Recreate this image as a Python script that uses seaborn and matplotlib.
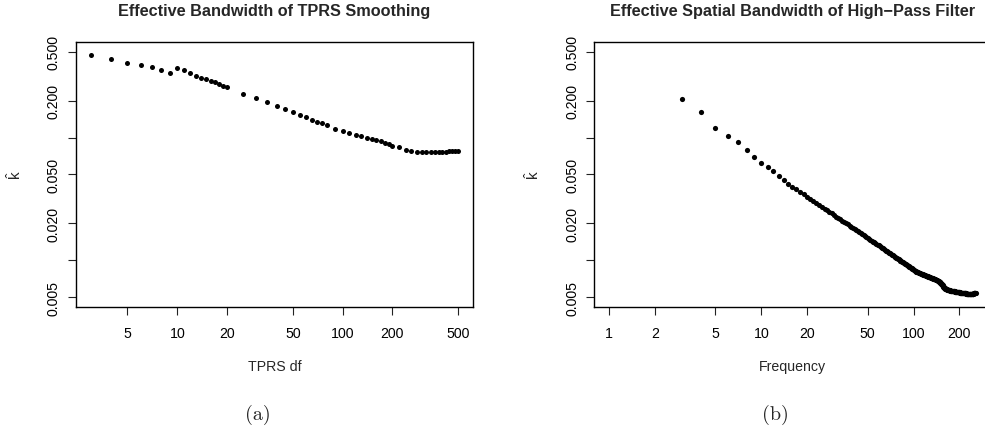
import numpy as np
import seaborn as sns
import matplotlib
matplotlib.use("Agg")
import matplotlib.pyplot as plt

# (a) TPRS smoothing: degrees of freedom vs effective bandwidth
tprs_df = [3, 4, 5, 6, 7, 8, 9, 10, 11, 12, 13, 14, 15, 16, 17, 18, 19, 20,
           25, 30, 35, 40, 45, 50, 55, 60, 65, 70, 75, 80,
           90, 100, 110, 120, 130, 140, 150, 160, 170, 180, 190, 200,
           220, 240, 260, 280, 300, 320, 340, 360, 380, 400, 420, 440, 460, 480, 500]
tprs_k = [0.467, 0.433, 0.402, 0.387, 0.373, 0.352, 0.333, 0.366, 0.352, 0.333,
          0.319, 0.308, 0.298, 0.289, 0.281, 0.273, 0.263, 0.257,
          0.228, 0.209, 0.194, 0.181, 0.170, 0.161, 0.153, 0.146, 0.140, 0.135, 0.131, 0.126,
          0.118, 0.1125, 0.108, 0.105, 0.102, 0.0995, 0.097, 0.095, 0.093, 0.091, 0.088, 0.086,
          0.083, 0.0795, 0.078, 0.0768, 0.0765, 0.0764, 0.0764, 0.0764, 0.0764, 0.0766,
          0.0769, 0.0771, 0.0773, 0.0773, 0.0773]

# (b) high-pass filter: frequency vs effective spatial bandwidth
freq = list(range(3, 257))
hp_k = [0.205, 0.161, 0.119, 0.103, 0.0916, 0.0788, 0.0692, 0.0623, 0.0573, 0.0532,
        0.0484, 0.0455, 0.0422, 0.0397, 0.0378, 0.0361, 0.0345, 0.0330, 0.0317, 0.0304,
        0.0293, 0.0283, 0.0273, 0.0264, 0.0256, 0.0248, 0.0241, 0.0234, 0.0227, 0.0221,
        0.0216, 0.0210, 0.0205, 0.0200, 0.0196, 0.0191, 0.0187, 0.0183, 0.0179, 0.0176,
        0.0172, 0.0169, 0.0166, 0.0163, 0.0160, 0.0157, 0.0154, 0.0151, 0.0149, 0.0147,
        0.0144, 0.0142, 0.0140, 0.0138, 0.0135, 0.0133, 0.0132, 0.0130, 0.0128, 0.0126,
        0.0125, 0.0123, 0.0121, 0.0120, 0.0118, 0.0117, 0.0115, 0.0114, 0.0112, 0.0111,
        0.0110, 0.0109, 0.0107, 0.0106, 0.0105, 0.0104, 0.0103, 0.0102, 0.0101, 0.00995,
        0.00984, 0.00974, 0.00965, 0.00955, 0.00946, 0.00937, 0.00928, 0.00919, 0.00910, 0.00902,
        0.00894, 0.00886, 0.00878, 0.00870, 0.00862, 0.00855, 0.00848, 0.00840, 0.00832, 0.00823,
        0.00815, 0.00808, 0.00802, 0.00799, 0.00795, 0.00792, 0.00789, 0.00785, 0.00782, 0.00778,
        0.00775, 0.00771, 0.00768, 0.00765, 0.00761, 0.00758, 0.00754, 0.00751, 0.00747, 0.00744,
        0.00741, 0.00739, 0.00736, 0.00733, 0.00731, 0.00728, 0.00725, 0.00723, 0.00720, 0.00717,
        0.00715, 0.00712, 0.00709, 0.00707, 0.00704, 0.00701, 0.00699, 0.00696, 0.00693, 0.00691,
        0.00687, 0.00683, 0.00679, 0.00675, 0.00671, 0.00666, 0.00661, 0.00656, 0.00650, 0.00644,
        0.00638, 0.00631, 0.00624, 0.00617, 0.00610, 0.00604, 0.00598, 0.00593, 0.00589, 0.00586,
        0.00583, 0.00581, 0.00579, 0.00577, 0.00575, 0.00573, 0.00572, 0.00570, 0.00569, 0.00568,
        0.00567, 0.00566, 0.00565, 0.00564, 0.00563, 0.00563, 0.00562, 0.00561, 0.00561, 0.00560,
        0.00559, 0.00558, 0.00558, 0.00557, 0.00556, 0.00555, 0.00555, 0.00554, 0.00553, 0.00552,
        0.00552, 0.00551, 0.00550, 0.00550, 0.00549, 0.00548, 0.00548, 0.00547, 0.00547, 0.00546,
        0.00545, 0.00545, 0.00544, 0.00544, 0.00543, 0.00543, 0.00542, 0.00541, 0.00541, 0.00540,
        0.00540, 0.00539, 0.00539, 0.00538, 0.00538, 0.00537, 0.00537, 0.00536, 0.00536, 0.00535,
        0.00535, 0.00535, 0.00535, 0.00534, 0.00534, 0.00534, 0.00534, 0.00534, 0.00534, 0.00534,
        0.00534, 0.00534, 0.00535, 0.00535, 0.00535, 0.00535, 0.00535, 0.00535, 0.00535, 0.00535,
        0.00535, 0.00535, 0.00535, 0.00535, 0.00535, 0.00536, 0.00536, 0.00536, 0.00536, 0.00536,
        0.00536, 0.00536, 0.00536, 0.00536]
assert len(freq) == len(hp_k)

y_ticks = [0.005, 0.01, 0.02, 0.05, 0.1, 0.2, 0.5]
y_labels = ["0.005", "", "0.020", "0.050", "", "0.200", "0.500"]
xticks_a = [5, 10, 20, 50, 100, 200, 500]
xticks_b = [1, 2, 5, 10, 20, 50, 100, 200]

sns.set_style("ticks")
plt.rcParams['font.family'] = ['Liberation Sans', 'DejaVu Sans']
plt.rcParams['mathtext.fontset'] = 'custom'
plt.rcParams['mathtext.rm'] = 'Liberation Sans'
plt.rcParams['mathtext.it'] = 'Liberation Sans'

fig = plt.figure(figsize=(9.85, 4.31), dpi=100)
ax_a = fig.add_axes([0.0772, 0.2854, 0.4030, 0.6149])
ax_b = fig.add_axes([0.6034, 0.2854, 0.4022, 0.6149])


def style_axis(ax, xticks, xlim, title, xlabel):
    ax.set_xscale("log")
    ax.set_yscale("log")
    ax.set_xlim(*xlim)
    ax.set_ylim(0.00416, 0.601)
    ax.set_xticks(xticks)
    ax.set_xticklabels([str(t) for t in xticks])
    ax.set_yticks(y_ticks)
    ax.set_yticklabels(y_labels, rotation=90, va="center")
    ax.minorticks_off()
    ax.tick_params(axis="both", direction="out", length=6, width=0.8,
                   labelsize=10.2, colors="#222222", labelcolor="black")
    ax.tick_params(axis="x", pad=8)
    ax.tick_params(axis="y", pad=5)
    for sp in ax.spines.values():
        sp.set_visible(True)
        sp.set_linewidth(1.0)
        sp.set_color("black")
    ax.set_title(title, fontsize=11.7, fontweight="bold", pad=19.5)
    ax.set_xlabel(xlabel, fontsize=10.2)
    ax.xaxis.set_label_coords(0.5, -0.222)
    ax.xaxis.label.set_va("center")
    ax.set_ylabel(r"$\hat{\mathrm{k}}$", fontsize=11)
    ax.yaxis.set_label_coords(-0.155, 0.5)
    ax.yaxis.label.set_va("center")
    ax.grid(False)


sns.scatterplot(x=tprs_df, y=tprs_k, ax=ax_a, color="black", s=13, linewidth=0)
sns.scatterplot(x=freq, y=hp_k, ax=ax_b, color="black", s=14, linewidth=0)

style_axis(ax_a, xticks_a, (2.443, 614), "Effective Bandwidth of TPRS Smoothing", "TPRS df")
style_axis(ax_b, xticks_b, (0.801, 320), "Effective Spatial Bandwidth of High\u2212Pass Filter", "Frequency")

fig.text(258 / 985, 1 - 415 / 431, "(a)", family="cmr10", fontsize=14.5, ha="center", va="center")
fig.text(775 / 985, 1 - 415 / 431, "(b)", family="cmr10", fontsize=14.5, ha="center", va="center")

fig.savefig("out.png", dpi=100, facecolor="white")
